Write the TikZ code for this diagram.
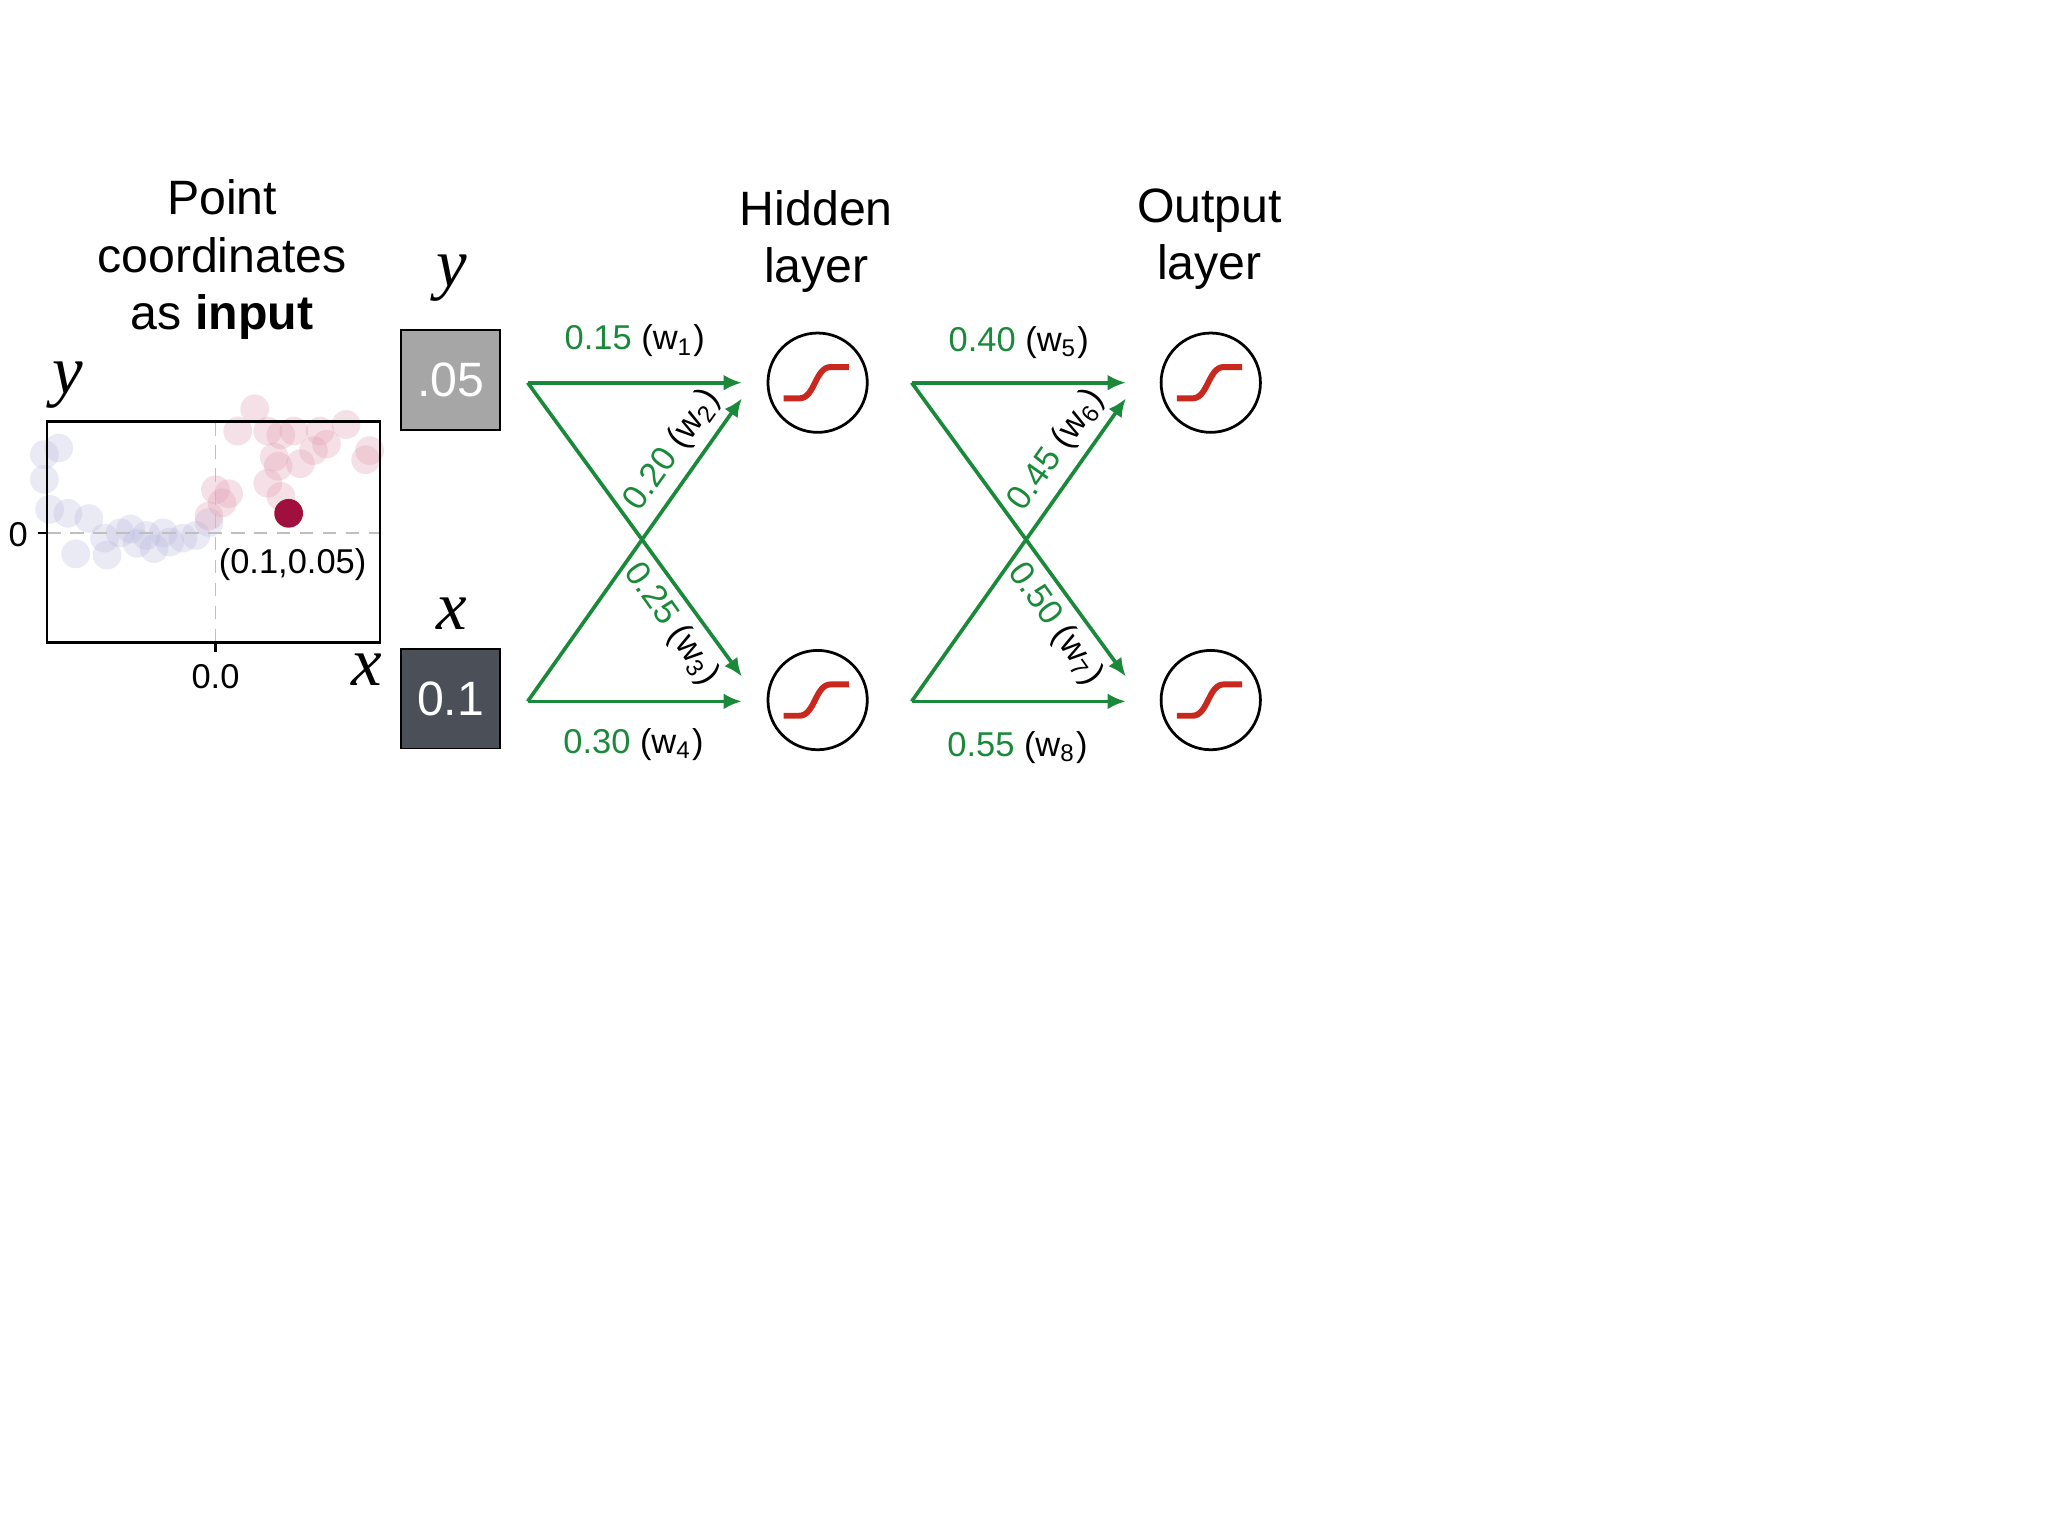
\documentclass[tikz,border=0pt]{standalone}
\usepackage{fontspec}
\setmainfont{Liberation Sans}
\newfontfamily\serifit{Liberation Serif}
\usetikzlibrary{arrows.meta}
\definecolor{gr}{HTML}{1A8A3A}
\definecolor{sred}{HTML}{C8281E}
\definecolor{blu}{HTML}{B8B8DC}
\definecolor{pnk}{HTML}{E09AB0}
\definecolor{dotc}{HTML}{A0103F}
\definecolor{boxl}{HTML}{A6A6A6}
\definecolor{boxd}{HTML}{4B4F57}
\begin{document}
\begin{tikzpicture}[x=0.01cm,y=-0.01cm,
 title/.style={font=\fontsize{10.5}{12.5}\selectfont,align=center},
 ax/.style={font=\fontsize{15}{15}\selectfont\serifit\itshape},
 lbl/.style={font=\fontsize{7.5}{9}\selectfont,text=gr},
 tick/.style={font=\fontsize{7.5}{9}\selectfont},
 neuron/.style={circle,draw,line width=0.6pt,minimum size=0.76cm,inner sep=0},
 w/.style={-{Latex[length=4pt,width=3.5pt]},gr,line width=0.8pt},
 bdot/.style={blu,fill opacity=0.3},
 pdot/.style={pnk,fill opacity=0.3}]
\useasboundingbox (0,0) rectangle (1568,1176);
% scatter
\foreach \p in {(34,348),(45,343),(34,367),(38,390),(52,393),(68,397),(58,424),(82,425),(92,408),(80,412),(105,416),(118,420),(130,415),(140,412),(150,410),(160,400),(100,405),(125,408),(112,410)}
 \fill[bdot] \p circle (11);
\foreach \p in {(165,375),(175,378),(170,385),(182,330),(195,313),(215,333),(225,330),(245,330),(265,325),(283,345),(280,352),(210,350),(213,357),(205,370),(215,380),(240,345),(250,340),(205,330),(160,395),(230,355)}
 \fill[pdot] \p circle (11);
\draw[densely dashed,gray!50,line width=0.4pt] (165,323) -- (165,492) (36,408) -- (291,408);
\draw[line width=0.6pt] (36,323) rectangle (291,492);
\draw[line width=0.6pt] (29,408) -- (36,408) (165,492) -- (165,499);
\fill[dotc] (221,393) circle (11);
\node[tick] (t0) at (14,409) {0};
\node[tick] (t00) at (165,518) {0.0};
\node[tick] (pt) at (224,432) {(0.1,0.05)};
\node[ax] (ya) at (52,295) {y};
\node[ax] (xa) at (281,513) {x};
\node[title] (ptitle) at (170,199) {Point\\coordinates\\as \textbf{input}};
% inputs
\node[draw,fill=boxl,minimum size=0.76cm,text=white,font=\fontsize{10.5}{12}\selectfont] (iy) at (345,291) {.05};
\node[draw,fill=boxd,minimum size=0.76cm,text=white,font=\fontsize{10.5}{12}\selectfont] (ix) at (345,535) {0.1};
\node[ax] (yl) at (346,213) {y};
\node[ax] (xl) at (346,470) {x};
% layers
\node[title] (ht) at (625,185) {Hidden\\layer};
\node[title] (ot) at (926,183) {Output\\layer};
\node[neuron] (h1) at (626,293) {};
\node[neuron] (h2) at (626,536) {};
\node[neuron] (o1) at (927,293) {};
\node[neuron] (o2) at (927,536) {};
\foreach \n in {h1,h2,o1,o2}
 \draw[sred,line width=1.3pt] ([shift={(-26,12)}]\n.center) -- ++(12,0) .. controls +(12,0) and +(-12,0) .. ++(24,-24) -- ++(14,0);
% connectors
\coordinate (a1) at (404,293); \coordinate (a2) at (404,537);
\coordinate (b1) at (698,293); \coordinate (b2) at (698,537);
\coordinate (c1) at (568,293); \coordinate (c2) at (568,537);
\coordinate (d1) at (862,293); \coordinate (d2) at (862,537);
\draw[w] (a1) -- (c1);
\draw[w] (a1) -- (568,518);
\draw[w] (a2) -- (568,305);
\draw[w] (a2) -- (c2);
\draw[w] (b1) -- (d1);
\draw[w] (b1) -- (862,518);
\draw[w] (b2) -- (862,305);
\draw[w] (b2) -- (d2);
\node[lbl] (l1) at (486,261) {0.15 \textcolor{black}{(w\textsubscript{1})}};
\node[lbl] (l4) at (485,570) {0.30 \textcolor{black}{(w\textsubscript{4})}};
\node[lbl] (l5) at (780,262) {0.40 \textcolor{black}{(w\textsubscript{5})}};
\node[lbl] (l8) at (779,572) {0.55 \textcolor{black}{(w\textsubscript{8})}};
\node[lbl,rotate=54.7] (l2) at (515,345) {0.20 \textcolor{black}{(w\textsubscript{2})}};
\node[lbl,rotate=-54.7] (l3) at (514,478) {0.25 \textcolor{black}{(w\textsubscript{3})}};
\node[lbl,rotate=54.7] (l6) at (809,345) {0.45 \textcolor{black}{(w\textsubscript{6})}};
\node[lbl,rotate=-54.7] (l7) at (808,478) {0.50 \textcolor{black}{(w\textsubscript{7})}};
\end{tikzpicture}
\end{document}
